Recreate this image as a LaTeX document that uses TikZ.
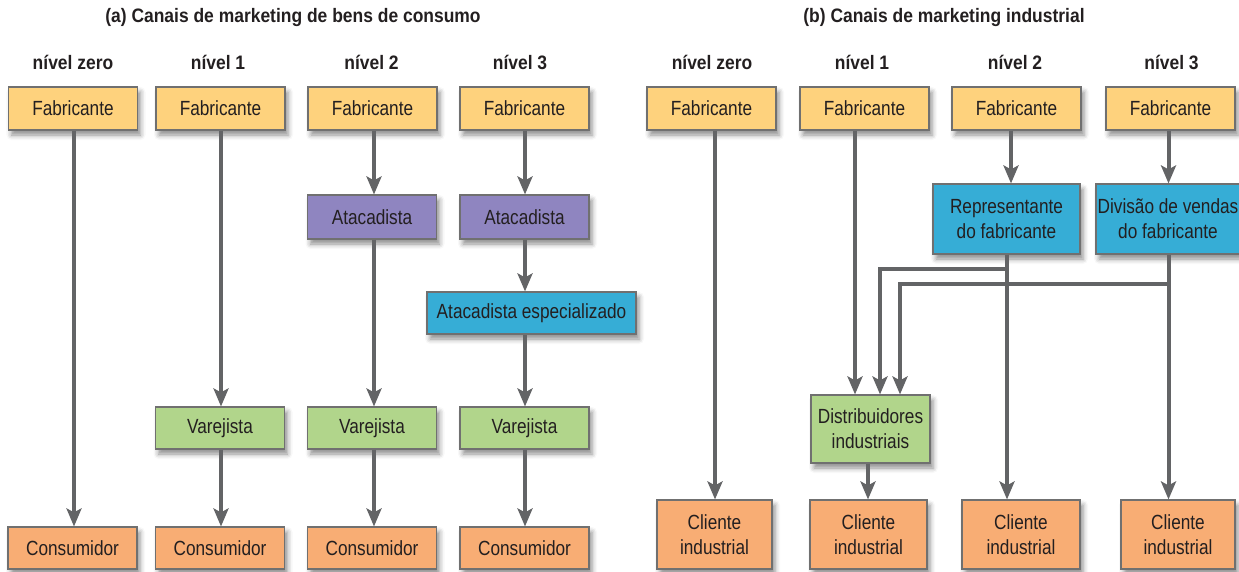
\documentclass[tikz,border=0pt]{standalone}
\usepackage{fontspec}
\setmainfont{Liberation Sans}
\newfontfamily\boxfont{Liberation Sans}[FakeStretch=0.84]
\newfontfamily\headfont{Liberation Sans}[FakeStretch=0.895]
\usetikzlibrary{arrows.meta,shadows.blur}

\definecolor{fab}{RGB}{254,210,125}
\definecolor{atac}{RGB}{143,133,192}
\definecolor{azul}{RGB}{54,173,214}
\definecolor{verde}{RGB}{177,213,139}
\definecolor{laranja}{RGB}{248,173,116}
\definecolor{boxline}{RGB}{112,112,112}
\definecolor{lineclr}{RGB}{99,100,102}
\definecolor{ink}{RGB}{35,31,32}

\begin{document}
\begin{tikzpicture}[x=1pt,y=-1pt,
  box/.style={draw=boxline, line width=1.1pt, inner sep=0pt,
    minimum height=43pt, minimum width=129pt, align=center, text=ink,
    font={\boxfont\fontsize{20.5}{25}\selectfont},
    blur shadow={shadow xshift=3pt, shadow yshift=-5pt,
      shadow blur radius=5pt, shadow opacity=45}},
  tall/.style={minimum height=70pt},
  head/.style={text=ink, inner sep=0pt,
    font={\headfont\bfseries\fontsize{19.5}{21}\selectfont}},
  arr/.style={draw=lineclr, line width=4pt,
    -{Stealth[length=18pt,width=15pt,inset=4pt]}}]

\useasboundingbox (0,0) rectangle (1239,572);

% titles and level headers
\node[head] (ta) at (293,18) {(a) Canais de marketing de bens de consumo};
\node[head] (tb) at (944,18) {(b) Canais de marketing industrial};
\node[head] (h1) at (73,62) {nível zero};
\node[head] (h2) at (218,62) {nível 1};
\node[head] (h3) at (371.5,62) {nível 2};
\node[head] (h4) at (520,62) {nível 3};
\node[head] (h5) at (712,62) {nível zero};
\node[head] (h6) at (862,62) {nível 1};
\node[head] (h7) at (1015,62) {nível 2};
\node[head] (h8) at (1171.5,62) {nível 3};

% (a) consumer goods channels
\node[box, fill=fab] (f1) at (73,108.5) {Fabricante};
\node[box, fill=fab] (f2) at (220.5,108.5) {Fabricante};
\node[box, fill=fab] (f3) at (372.5,108.5) {Fabricante};
\node[box, fill=fab] (f4) at (524.5,108.5) {Fabricante};

\node[box, fill=atac, minimum height=44pt] (a3) at (372,217) {Atacadista};
\node[box, fill=atac, minimum height=44pt] (a4) at (524.5,217) {Atacadista};
\node[box, fill=azul, minimum width=209pt, minimum height=42pt] (ae) at (531.5,313) {Atacadista especializado};

\node[box, fill=verde, minimum height=42pt] (v2) at (220,428) {Varejista};
\node[box, fill=verde, minimum height=42pt] (v3) at (372,428) {Varejista};
\node[box, fill=verde, minimum height=42pt] (v4) at (524.5,428) {Varejista};

\node[box, fill=laranja, minimum height=42pt] (c1) at (72.5,548) {Consumidor};
\node[box, fill=laranja, minimum height=42pt] (c2) at (220,548) {Consumidor};
\node[box, fill=laranja, minimum height=42pt] (c3) at (372,548) {Consumidor};
\node[box, fill=laranja, minimum height=42pt] (c4) at (524.5,548) {Consumidor};

% (b) industrial channels
\node[box, fill=fab] (f5) at (711.5,108.5) {Fabricante};
\node[box, fill=fab] (f6) at (864.5,108.5) {Fabricante};
\node[box, fill=fab] (f7) at (1016.5,108.5) {Fabricante};
\node[box, fill=fab] (f8) at (1170.5,108.5) {Fabricante};

\node[box, tall, fill=azul, minimum width=147pt] (rep) at (1006.5,219) {Representante\\do fabricante};
\node[box, tall, fill=azul, minimum width=144pt] (div) at (1168,219) {Divisão de vendas\\do fabricante};

\node[box, fill=verde, minimum width=119pt, minimum height=68pt] (dist) at (870.5,429) {Distribuidores\\industriais};

\node[box, fill=laranja, minimum width=115pt, minimum height=69pt] (c5) at (714.5,534.5) {Cliente\\industrial};
\node[box, fill=laranja, minimum width=117pt, minimum height=69pt] (c6) at (868.5,534.5) {Cliente\\industrial};
\node[box, fill=laranja, minimum width=118pt, minimum height=69pt] (c7) at (1021,534.5) {Cliente\\industrial};
\node[box, fill=laranja, minimum width=114pt, minimum height=69pt] (c8) at (1178,534.5) {Cliente\\industrial};

% x positions of the vertical connectors
\coordinate (k1) at (74,0);
\coordinate (k2) at (221,0);
\coordinate (k3) at (374,0);
\coordinate (k4) at (525,0);
\coordinate (k5) at (715,0);
\coordinate (k6) at (855,0);
\coordinate (k7) at (1011,0);
\coordinate (k7b) at (1007,0);
\coordinate (k8) at (1168.5,0);
\coordinate (kd) at (868,0);
\coordinate (kb1) at (880,0);
\coordinate (kb2) at (900,0);

% connectors of (a)
\draw[arr] (f1.south -| k1) -- (c1.north -| k1);
\draw[arr] (f2.south -| k2) -- (v2.north -| k2);
\draw[arr] (v2.south -| k2) -- (c2.north -| k2);
\draw[arr] (f3.south -| k3) -- (a3.north -| k3);
\draw[arr] (a3.south -| k3) -- (v3.north -| k3);
\draw[arr] (v3.south -| k3) -- (c3.north -| k3);
\draw[arr] (f4.south -| k4) -- (a4.north -| k4);
\draw[arr] (a4.south -| k4) -- (ae.north -| k4);
\draw[arr] (ae.south -| k4) -- (v4.north -| k4);
\draw[arr] (v4.south -| k4) -- (c4.north -| k4);

% connectors of (b)
\draw[arr] (f5.south -| k5) -- (c5.north -| k5);
\draw[arr] (f6.south -| k6) -- (dist.north -| k6);
\draw[arr] (dist.south -| kd) -- (c6.north -| kd);
\draw[arr] (f7.south -| k7) -- (rep.north -| k7);
\draw[arr] (rep.south -| k7b) -- (c7.north -| k7b);
\draw[arr] (f8.south -| k8) -- (div.north -| k8);
\draw[arr] (div.south -| k8) -- (c8.north -| k8);
\draw[arr] (rep.south -| k7b) -- ++(0,14) -| (dist.north -| kb1);
\draw[arr] (div.south -| k8) -- ++(0,29) -| (dist.north -| kb2);

\end{tikzpicture}
\end{document}
